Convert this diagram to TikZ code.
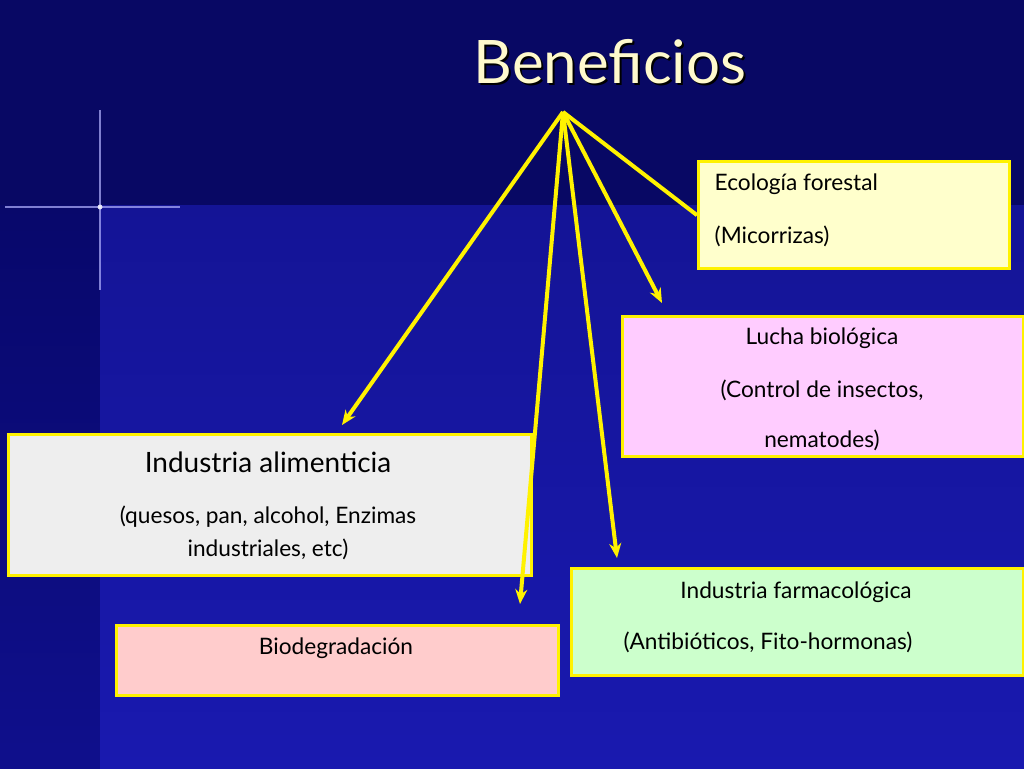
\documentclass[tikz,border=0pt]{standalone}
\usepackage{fontspec}
\usetikzlibrary{arrows.meta}
\setmainfont{Lato}
\definecolor{bgtop}{RGB}{5,5,95}
\definecolor{bgbot}{RGB}{15,15,140}
\definecolor{bgA}{RGB}{20,20,150}
\definecolor{bgB}{RGB}{25,25,175}
\definecolor{bgC}{RGB}{8,8,100}
\definecolor{cyel}{RGB}{255,255,204}
\definecolor{cpink}{RGB}{255,204,255}
\definecolor{cgrey}{RGB}{238,238,238}
\definecolor{crose}{RGB}{255,204,204}
\definecolor{cgreen}{RGB}{204,255,204}
\definecolor{ctitle}{RGB}{255,250,205}
\begin{document}
\begin{tikzpicture}[x=0.75pt,y=-0.75pt,
  box/.style={draw=yellow,line width=2.5pt,anchor=north west,inner sep=0pt},
  txt/.style={text=black,font=\fontsize{17}{20}\selectfont},
  arr/.style={draw=yellow,line width=3pt,-{Stealth[length=11pt,width=9pt]}},
  ln/.style={draw=yellow,line width=3pt}]
\useasboundingbox (0,0) rectangle (1024,768);
\fill[top color=bgtop,bottom color=bgbot] (0,0) rectangle (1024,768);
\fill[top color=bgA,bottom color=bgB] (100,205) rectangle (1024,768);
\fill[bgC] (0,0) rectangle (1024,205);
% flare
\draw[white!70!blue,line width=1pt,opacity=0.7] (5,207) -- (180,207);
\draw[white!70!blue,line width=1pt,opacity=0.7] (100,110) -- (100,290);
\fill[white,opacity=0.8] (100,207) circle (2.5);
% title
\node (tsh) at (612,64) {\fontsize{45}{50}\selectfont\color{black}Beneficios};
\node (t) at (610,62) {\fontsize{45}{50}\selectfont\color{ctitle}Beneficios};
\coordinate (o) at (563,112);
% boxes
\node[box,fill=cyel,minimum width=311*0.75pt,minimum height=107*0.75pt] (eco) at (697,160) {};
\node[txt,anchor=west] at (710,184) {Ecología forestal};
\node[txt,anchor=west] at (710,236) {(Micorrizas)};
\node[box,fill=cpink,minimum width=401*0.75pt,minimum height=140*0.75pt] (luc) at (621,315) {};
\node[txt] at (822,338) {Lucha biológica};
\node[txt] at (822,390) {(Control de insectos,};
\node[txt] at (822,440) {nematodes)};
\node[box,fill=cgrey,minimum width=523*0.75pt,minimum height=141*0.75pt] (ali) at (7,433) {};
\node[txt,font=\fontsize{21}{24}\selectfont] at (268,462) {Industria alimenticia};
\node[txt] at (268,517) {(quesos, pan, alcohol, Enzimas};
\node[txt] at (268,549) {industriales, etc)};
\node[box,fill=crose,minimum width=442*0.75pt,minimum height=70*0.75pt] (bio) at (115,624) {};
\node[txt] at (336,648) {Biodegradación};
\node[box,fill=cgreen,minimum width=452*0.75pt,minimum height=107*0.75pt] (far) at (570,567) {};
\node[txt] at (796,592) {Industria farmacológica};
\node[txt] at (768,642) {(Antibióticos, Fito-hormonas)};
% connectors
\coordinate (a1) at (342,425);
\coordinate (a2) at (520,604);
\coordinate (a3) at (617,558);
\coordinate (a4) at (662,303);
\draw[arr] (o) -- (a1);
\draw[arr] (o) -- (a2);
\draw[arr] (o) -- (a3);
\draw[arr] (o) -- (a4);
\draw[ln] (o) -- (eco.west);
\end{tikzpicture}
\end{document}
